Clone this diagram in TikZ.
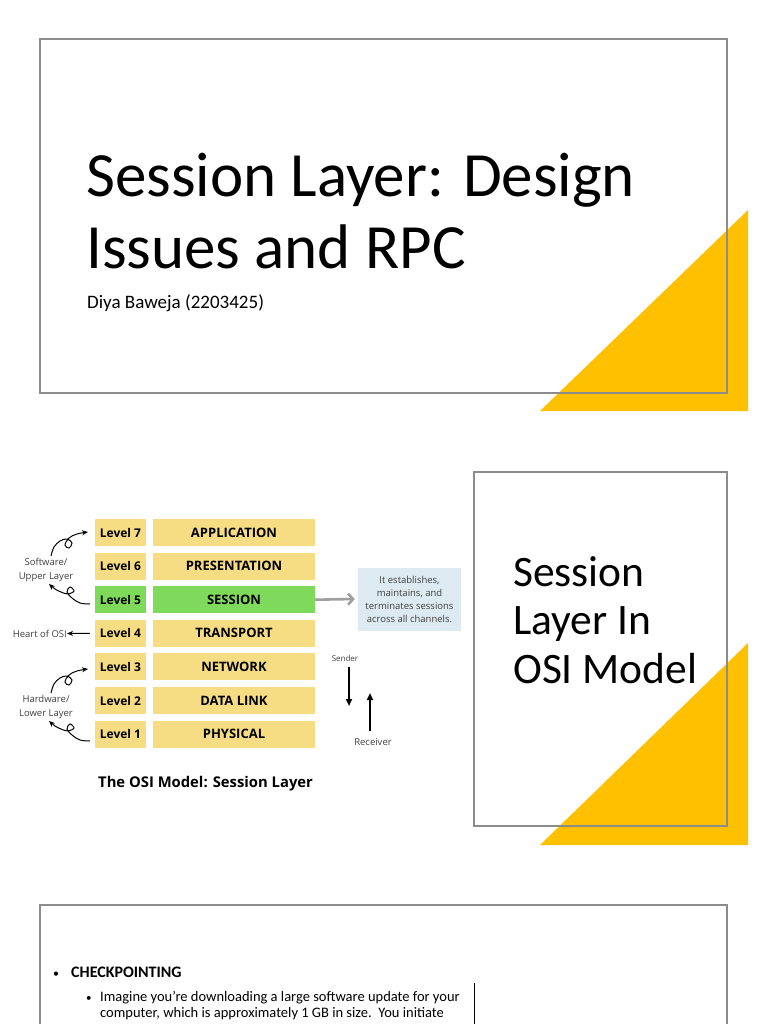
\documentclass[tikz,border=0pt]{standalone}
\usepackage{fontspec}
\setmainfont{Carlito}
\newfontfamily\osifont{Open Sans}
\usetikzlibrary{positioning,arrows.meta}

\definecolor{slidegold}{HTML}{FFC000}
\definecolor{framegray}{HTML}{8C8C8C}
\definecolor{lvlyellow}{HTML}{F6DC82}
\definecolor{lvlgreen}{HTML}{7FD95A}
\definecolor{calloutblue}{HTML}{DDEAF2}
\definecolor{notegray}{HTML}{404040}

\tikzset{
  slideframe/.style={draw=framegray,line width=1.1pt},
  goldtri/.style={fill=slidegold},
  lvlbox/.style={fill=\col,minimum height=27pt,inner sep=0pt,
    font=\osifont\bfseries\fontsize{12}{14}\selectfont},
  sidenote/.style={text=notegray,align=center,inner sep=0pt,
    font=\osifont\fontsize{9.5}{14}\selectfont},
  curlarrow/.style={-{Stealth[length=6pt,width=5pt]},line width=1pt},
  bigarrow/.style={-{Triangle[length=7pt,width=6pt]},line width=2pt}
}

\begin{document}
\begin{tikzpicture}[x=1pt,y=-1pt]
\useasboundingbox[fill=white] (0,0) rectangle (768,1024);

% title slide
\fill[goldtri] (540,411) -- (748,411) -- (748,210) -- cycle;
\draw[slideframe] (40,39) rectangle (727,393);
\node[anchor=base west,align=left,inner sep=0pt,font=\fontsize{63}{71}\selectfont] (title) at (86,268)
  {Session Layer: Design\\Issues and RPC};
\node[anchor=base west,inner sep=0pt,font=\fontsize{19}{22}\selectfont] (author) at (87,308) {Diya Baweja (2203425)};

% OSI figure
\foreach \lv/\lname/\col [count=\i from 0] in {7/APPLICATION/lvlyellow,6/PRESENTATION/lvlyellow,
    5/SESSION/lvlgreen,4/TRANSPORT/lvlyellow,3/NETWORK/lvlyellow,2/DATA LINK/lvlyellow,1/PHYSICAL/lvlyellow}{
  \node[lvlbox,minimum width=51pt] (lv\lv) at (120.5,532.5+33.6*\i) {Level \lv};
  \node[lvlbox,minimum width=162pt,font=\osifont\bfseries\fontsize{13}{15}\selectfont] (ly\lv) at (234,532.5+33.6*\i) {\lname};
}

\node[sidenote] (upper) at (46,570) {Software/\\Upper Layer};
\node[sidenote] (lower) at (46,707) {Hardware/\\Lower Layer};
\node[sidenote,anchor=east] (heart) at (67,633.5) {Heart of OSI};
\draw[-{Stealth[length=6pt,width=5pt]},line width=1pt,shorten <=5pt] (lv4.west) -- (heart.east);

% curly doodles
\foreach \dy in {0,137}{
  \begin{scope}[shift={(0,\dy)}]
    \draw[curlarrow] plot[smooth,tension=0.6] coordinates
      {(51,556) (54,547) (60,541) (67,539) (72,543) (69,548) (65,545) (69,538) (77,534) (88,532)};
    \draw[curlarrow] plot[smooth,tension=0.6] coordinates
      {(90,604) (80,603) (72,598) (67,592) (70,587) (74,591) (68,594) (61,592) (55,589) (49,584)};
  \end{scope}
}

\node[fill=calloutblue,minimum width=103pt,minimum height=63pt,align=center,inner sep=0pt,
  font=\osifont\fontsize{9.5}{13}\selectfont,text=notegray] (callout) at (409.5,599)
  {It establishes,\\maintains, and\\terminates sessions\\across all channels.};
\draw[draw=gray!75,line width=2.6pt,-{Straight Barb[length=5pt,width=11pt]}] (ly5.east) -- ([xshift=-3pt]callout.west);

\node[sidenote,font=\osifont\fontsize{8}{10}\selectfont] (sender) at (345,658) {Sender};
\node[sidenote] (receiver) at (373,742) {Receiver};
\coordinate (sendtop) at (349,667);
\coordinate (sendbot) at (349,706);
\coordinate (recvbot) at (370,731);
\coordinate (recvtop) at (370,693);
\draw[bigarrow] (sendtop) -- (sendbot);
\draw[bigarrow] (recvbot) -- (recvtop);

\node[anchor=base west,inner sep=0pt,font=\osifont\bfseries\fontsize{14.8}{16}\selectfont] (caption) at (98,787)
  {The OSI Model: Session Layer};

% second slide
\fill[goldtri] (540,845) -- (748,845) -- (748,643) -- cycle;
\draw[slideframe] (474,472) rectangle (727,826);
\node[anchor=base west,align=left,inner sep=0pt,font=\fontsize{43.5}{48.5}\selectfont] (osititle) at (513,683)
  {Session\\Layer In\\OSI Model};

% third slide
\draw[slideframe] (40,1030) -- (40,905) -- (727,905) -- (727,1030);
\draw[line width=0.6pt] (474,983) -- (474,1030);
\node[anchor=base west,inner sep=0pt,font=\fontsize{12}{16}\selectfont] (bullet1) at (53,977) {•};
\node[anchor=base west,inner sep=0pt,font=\bfseries\fontsize{16}{18}\selectfont] (checkpt) at (71,977) {CHECKPOINTING};
\node[anchor=base west,inner sep=0pt,font=\fontsize{11}{16}\selectfont] (bullet2) at (86,1001) {•};
\node[anchor=base west,align=left,inner sep=0pt,font=\fontsize{14.5}{16}\selectfont] (example) at (100,1017)
  {Imagine you're downloading a large software update for your\\computer, which is approximately 1 GB in size.\ \ You initiate};
\end{tikzpicture}
\end{document}
